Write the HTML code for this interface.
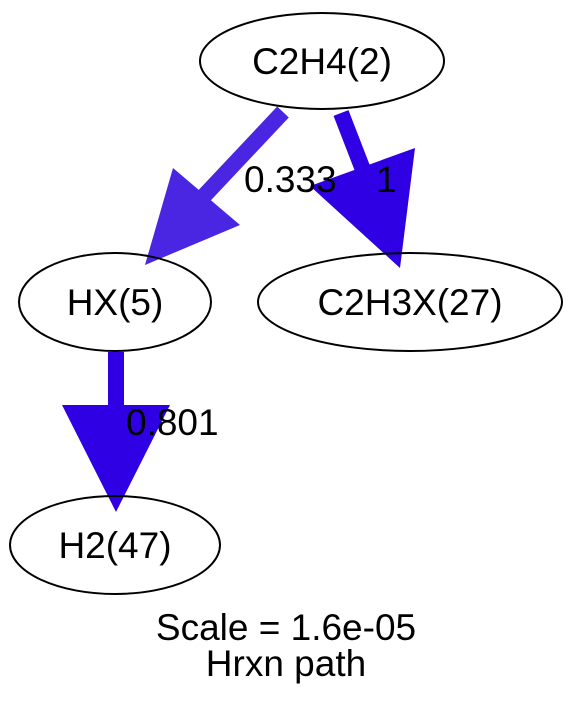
<!DOCTYPE html>
<html><head><style>body{margin:0;background:#fff}svg{display:block}svg text{font-family:"Liberation Sans",Arial,sans-serif;font-size:37px}</style></head>
<body>
<svg width="573" height="711" viewBox="0 0 573 711" xmlns="http://www.w3.org/2000/svg">
<rect width="573" height="711" fill="#fff"/>
<line x1="283" y1="112" x2="203" y2="197" stroke="#4a25e2" stroke-width="16"/>
<polygon points="173,168 240,225 145,265" fill="#4a25e2"/>
<line x1="341" y1="113" x2="365" y2="175" stroke="#2e00e3" stroke-width="16"/>
<polygon points="310,186 415,148 400,268" fill="#2e00e3"/>
<line x1="116" y1="352" x2="116" y2="410" stroke="#2e00e3" stroke-width="16"/>
<polygon points="62,405 170,405 116,512" fill="#2e00e3"/>
<text x="244" y="192">0.333</text>
<text x="376" y="192">1</text>
<text x="126" y="435">0.801</text>
<g fill="none" stroke="#000" stroke-width="2">
<ellipse cx="322" cy="61" rx="122" ry="48"/>
<ellipse cx="115" cy="302" rx="96" ry="49"/>
<ellipse cx="410" cy="302" rx="152" ry="49"/>
<ellipse cx="115" cy="545" rx="105" ry="49"/>
</g>
<g text-anchor="middle">
<text x="322" y="74">C2H4(2)</text>
<text x="115" y="315">HX(5)</text>
<text x="410" y="315">C2H3X(27)</text>
<text x="115" y="558">H2(47)</text>
<text x="286" y="640">Scale = 1.6e-05</text>
<text x="286" y="676">Hrxn path</text>
</g>
</svg>
</body></html>
